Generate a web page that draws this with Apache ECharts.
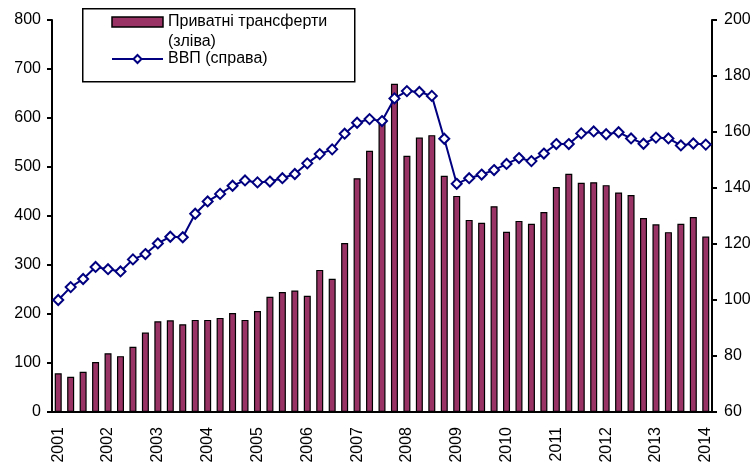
<!doctype html>
<html>
<head>
<meta charset="utf-8">
<title>Приватні трансферти та ВВП</title>
<script src="https://cdn.jsdelivr.net/npm/echarts@6/dist/echarts.min.js"></script>
<style>
  html, body { margin: 0; padding: 0; background: #fff; }
</style>
</head>
<body>
<div id="container" style="width:754px;height:463px;"></div>
<script type="text/javascript">
// квартали 2001 I - 2014 I
var years = ['2001','2002','2003','2004','2005','2006','2007','2008','2009','2010','2011','2012','2013','2014'];
var quarters = [];
for (var i = 0; i < years.length; i++) {
    for (var q = 1; q <= 4; q++) {
        if (years[i] == '2014' && q > 1) break;
        quarters.push(years[i] + ' Q' + q);
    }
}

// Приватні трансферти (ліва вісь)
var transfers = [
    79, 72, 82, 102, 120, 114, 133, 162,
    185, 187, 179, 188, 188, 192, 202, 188,
    206, 235, 245, 248, 237, 290, 272, 345,
    477, 533, 598, 670, 523, 560, 565, 482,
    441, 392, 386, 420, 368, 390, 384, 408,
    459, 486, 468, 469, 463, 448, 443, 396,
    383, 367, 384, 398, 358
];

// ВВП (права вісь)
var gdp = [
    100, 104.6, 107.5, 111.8, 111, 110.2, 114.5, 116.4,
    120.2, 122.6, 122.4, 130.8, 135.2, 137.9, 140.8, 142.7,
    142.0, 142.3, 143.5, 145, 148.8, 152.1, 153.8, 159.4,
    163.3, 164.6, 163.9, 172.0, 174.6, 174.3, 172.9, 157.6,
    141.5, 143.5, 144.8, 146.4, 148.6, 150.7, 149.6, 152.3,
    155.7, 155.7, 159.5, 160.2, 159.2, 159.9, 157.7, 155.8,
    158.0, 157.7, 155.2, 155.9, 155.5
];

var barName = 'Приватні трансферти (зліва)';
var lineName = 'ВВП (справа)';

var font = 'Liberation Sans, Arial, sans-serif';
var tickStyle = { color: '#000', width: 2 };

var option = {
    animation: false,
    textStyle: { fontFamily: font },
    grid: { left: 52, right: 42, top: 20, bottom: 51, outerBoundsMode: 'none' },
    graphic: [{
        type: 'rect',
        left: 82, top: 8,
        shape: { width: 272, height: 73 },
        style: { fill: '#fff', stroke: '#000', lineWidth: 1.5 },
        z: 5
    }, {
        // другий рядок підпису легенди
        type: 'text',
        left: 168, top: 34,
        style: { text: '(зліва)', font: '16px ' + font, fill: '#000' },
        z: 11
    }],
    legend: {
        orient: 'vertical',
        left: 106, top: 7,
        itemWidth: 51, itemHeight: 10,
        itemGap: 17,
        z: 10,
        textStyle: { fontFamily: font, fontSize: 16, color: '#000', lineHeight: 20 },
        formatter: function (name) { return name.replace(' (зліва)', ''); },
        data: [
            { name: barName, icon: 'rect', itemStyle: { borderColor: '#000', borderWidth: 1.5 } },
            { name: lineName }
        ]
    },
    xAxis: {
        type: 'category',
        data: quarters,
        axisLine: { lineStyle: tickStyle },
        axisTick: { interval: 3, length: 6, lineStyle: tickStyle },
        axisLabel: {
            interval: 3, rotate: 90, margin: 15,
            fontFamily: font, fontSize: 16, color: '#000',
            formatter: function (v) { return v.split(' ')[0]; }
        }
    },
    yAxis: [{
        type: 'value',
        min: 0, max: 800, interval: 100,
        splitLine: { show: false },
        axisLine: { show: true, lineStyle: tickStyle },
        axisTick: { show: true, length: 5, lineStyle: tickStyle },
        axisLabel: { margin: 11, fontFamily: font, fontSize: 16, color: '#000' }
    }, {
        type: 'value',
        min: 60, max: 200, interval: 20,
        splitLine: { show: false },
        axisLine: { show: true, lineStyle: tickStyle },
        axisTick: { show: true, length: 5, lineStyle: tickStyle },
        axisLabel: { margin: 12, fontFamily: font, fontSize: 16, color: '#000' }
    }],
    series: [{
        name: barName,
        type: 'bar',
        yAxisIndex: 0,
        barWidth: 7,
        itemStyle: { color: '#993366', borderColor: '#000', borderWidth: 1.2 },
        data: transfers
    }, {
        name: lineName,
        type: 'line',
        yAxisIndex: 1,
        symbol: 'diamond',
        symbolSize: 10,
        showAllSymbol: true,
        lineStyle: { color: '#000080', width: 2 },
        itemStyle: { color: '#fff', borderColor: '#000080', borderWidth: 2 },
        data: gdp
    }]
};

var myChart = echarts.init(document.getElementById('container'));
myChart.setOption(option);
</script>
</body>
</html>
